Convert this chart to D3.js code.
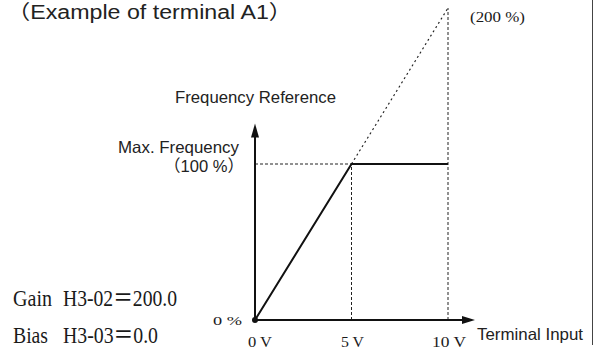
<!DOCTYPE html>
<html>
<head>
<meta charset="utf-8">
<script src="https://cdn.jsdelivr.net/npm/d3@7"></script>
<style>
  html, body { margin: 0; padding: 0; background: #fff; }
  svg { display: block; }
  .sans { font-family: "Liberation Sans", Arial, "Noto Sans CJK JP", sans-serif; fill: #222; }
  .serif { font-family: "Liberation Serif", "Times New Roman", "Noto Sans CJK JP", serif; fill: #1a1a1a; }
</style>
</head>
<body>
<svg id="chart" width="598" height="351"></svg>
<script>
// Terminal input voltage (V) and the resulting frequency reference (%)
const inputVolts = [0, 5, 10];
const gainLine = [0, 100, 200];      // unclamped reference with gain 200 %
const outputPercent = [0, 100, 100]; // reference clamped at max. frequency
const xTickValues = [0, 5, 10];
const xTickLabels = ["0 V", "5 V", "10 V"];
const yTickValues = [0, 100, 200];
const yTickLabels = ["0 %", "（100 %）", "(200 %)"];
const axisEnd = { volts: 11.4, percent: 126 };

const svg = d3.select("#chart");
const x = d3.scaleLinear().domain([0, 10]).range([255, 448]);
const y = d3.scaleLinear().domain([0, 200]).range([320, 8]);

const line = d3.line().x(d => x(d[0])).y(d => y(d[1]));

// frame edge on the right
svg.append("line").attr("x1", 592.5).attr("x2", 592.5).attr("y1", 0).attr("y2", 345)
  .attr("stroke", "#444").attr("stroke-width", 1);

// guide lines
function guide(pts, da, w) {
  svg.append("path").attr("d", line(pts)).attr("fill", "none")
    .attr("stroke", "#222").attr("stroke-width", w || 1).attr("stroke-dasharray", da);
}
// horizontal at 100 %
guide([[0, outputPercent[1]], [inputVolts[1], outputPercent[1]]], "3,2");
// vertical at 5 V
guide([[inputVolts[1], 0], [inputVolts[1], outputPercent[1]]], "3,2");
// vertical at 10 V up to 200 %
guide([[inputVolts[2], 0], [inputVolts[2], gainLine[2]]], "3,2");
// gain line continuing past max frequency
guide([[inputVolts[1], gainLine[1]], [inputVolts[2], gainLine[2]]], "2,3", 1.2);

// output curve
svg.append("path")
  .attr("d", line(inputVolts.map((v, i) => [v, outputPercent[i]])))
  .attr("fill", "none").attr("stroke", "#111").attr("stroke-width", 2)
  .attr("stroke-linejoin", "miter");

// axes with arrowheads
const x0 = x(0), y0 = y(0);
const xEnd = x(axisEnd.volts), yEnd = y(axisEnd.percent);
svg.append("line").attr("x1", x0).attr("y1", y0).attr("x2", xEnd - 10).attr("y2", y0)
  .attr("stroke", "#111").attr("stroke-width", 2);
svg.append("line").attr("x1", x0).attr("y1", y0).attr("x2", x0).attr("y2", yEnd + 10)
  .attr("stroke", "#111").attr("stroke-width", 2);
svg.append("path").attr("d", `M${xEnd},${y0} L${xEnd - 13},${y0 - 4} L${xEnd - 13},${y0 + 4} Z`).attr("fill", "#111");
svg.append("path").attr("d", `M${x0},${yEnd} L${x0 - 4},${yEnd + 14} L${x0 + 4},${yEnd + 14} Z`).attr("fill", "#111");

// origin dot
svg.append("circle").attr("cx", x0).attr("cy", y0).attr("r", 3).attr("fill", "#111");

function txt(cls, s, px, py, size, len, anchor) {
  const t = svg.append("text").attr("class", cls).attr("x", px).attr("y", py)
    .attr("font-size", size).attr("text-anchor", anchor || "start").text(s);
  if (len) t.attr("textLength", len).attr("lengthAdjust", "spacingAndGlyphs");
  return t;
}

// x tick labels
const xLabelLen = [24, 23, 34];
xTickValues.forEach((v, i) => {
  txt("serif", xTickLabels[i], x(v) + (i === 0 ? 5 : 1), 346.5, 14.5, xLabelLen[i], "middle");
});
txt("sans", "Terminal Input", 477, 340, 16.5, 106);

// y labels
txt("serif", yTickLabels[0], 213, 324.5, 13.5, 29);
txt("sans", "Max. Frequency", 239, 153, 16.5, 121, "end");
txt("sans", yTickLabels[1], 244, 172, 16.5, 80, "end");
txt("serif", yTickLabels[2], 470, 22, 14, 55);
txt("sans", "Frequency Reference", 175, 103, 16.5, 161);

// title
txt("sans", "（Example of terminal A1）", 7, 18.5, 20, 285);

// parameter settings
txt("serif", "Gain", 13, 306, 24, 39);
txt("serif", "H3-02＝200.0", 63, 306, 24, 114);
txt("serif", "Bias", 13, 343, 24, 35);
txt("serif", "H3-03＝0.0", 63, 343, 24, 95);
</script>
</body>
</html>
